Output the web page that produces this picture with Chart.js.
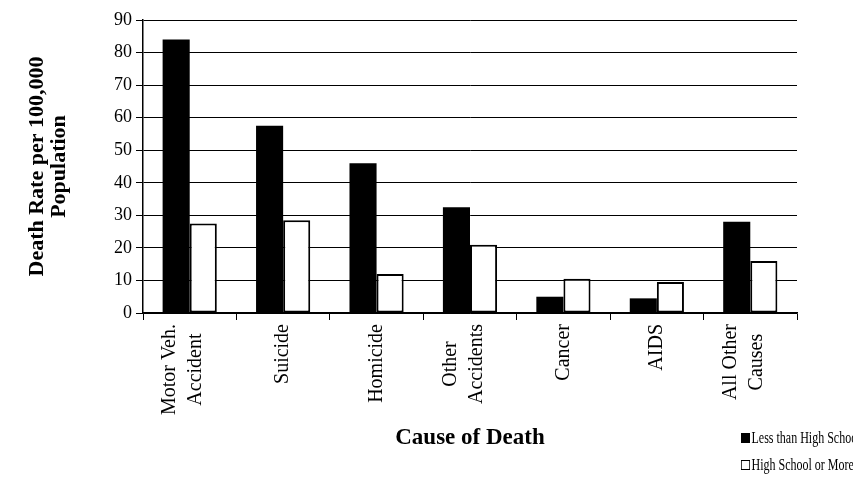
<!DOCTYPE html>
<html>
<head>
<meta charset="utf-8">
<script src="https://cdn.jsdelivr.net/npm/chart.js@4.4.1/dist/chart.umd.min.js"></script>
<style>
  html, body { margin: 0; padding: 0; background: #fff; }
  #wrap { position: relative; width: 853px; height: 477px; overflow: hidden; }
  #chart { position: absolute; left: 0; top: 0; }
  #xtitle {
    position: absolute; left: 370px; width: 200px; top: 424px;
    text-align: center; font: bold 23px 'Liberation Serif', serif; color: #000;
  }
  #legend {
    position: absolute; left: 741px; top: 428px; white-space: nowrap;
    font: 16px 'Liberation Serif', serif; color: #000;
    transform: scaleX(0.75); transform-origin: 0 0;
  }
  #legend div { height: 27px; line-height: 20px; }
  #legend span.box {
    display: inline-block; width: 12px; height: 10px; border: 1.5px solid #000;
    box-sizing: border-box; margin-right: 2px; vertical-align: 0px;
  }
</style>
</head>
<body>
<div id="wrap">
  <canvas id="chart" width="853" height="477"></canvas>
  <div id="xtitle">Cause of Death</div>
  <div id="legend"></div>
</div>
<script>
var causes = [['Motor Veh.', 'Accident'], 'Suicide', 'Homicide', ['Other', 'Accidents'], 'Cancer', 'AIDS', ['All Other', 'Causes']];
var lessThanHS = [84, 57.5, 46, 32.5, 5, 4.5, 28];
var hsOrMore = [27.5, 28.5, 12, 21, 10.5, 9.5, 16];
var seriesNames = ['Less than High School', 'High School or More'];
var yTitle = ['Death Rate per 100,000', 'Population'];

var serif = "'Liberation Serif', 'Times New Roman', serif";

// two-line category labels: lines centred on each other, block near the tick
var centerMultiLine = {
  id: 'centerMultiLine',
  beforeDraw: function (chart) {
    var scale = chart.scales.x;
    var items = scale.getLabelItems(chart.chartArea);
    var c = chart.ctx;
    items.forEach(function (it) {
      if (!Array.isArray(it.label) || it._done) return;
      it._done = true;
      c.save();
      c.font = it.font.string;
      var maxW = Math.max.apply(null, it.label.map(function (l) { return c.measureText(l).width; }));
      c.restore();
      it.textOffset = -(it.label.length - 1) * it.font.lineHeight / 4;
      it.options.textAlign = 'center';
      it.options.translation = [it.options.translation[0], it.options.translation[1] + maxW / 2];
    });
  }
};

var ctx = document.getElementById('chart');
var chart = new Chart(ctx, {
  type: 'bar',
  data: {
    labels: causes,
    datasets: [{
      label: seriesNames[0],
      data: lessThanHS,
      backgroundColor: '#000',
      borderColor: '#000',
      borderWidth: 0
    }, {
      label: seriesNames[1],
      data: hsOrMore,
      backgroundColor: '#fff',
      borderColor: '#000',
      borderWidth: 2,
      borderSkipped: false
    }]
  },
  options: {
    responsive: false,
    animation: false,
    categoryPercentage: 0.58,
    barPercentage: 1.0,
    layout: { padding: { left: 26, top: 20, right: 56, bottom: 0 } },
    plugins: {
      legend: { display: false },
      tooltip: { enabled: false }
    },
    scales: {
      x: {
        grid: { offset: true, drawOnChartArea: false, color: '#000', tickLength: 7 },
        border: { color: '#000', width: 1.5 },
        ticks: {
          minRotation: 90, maxRotation: 90, autoSkip: false,
          color: '#000', padding: 4,
          font: { family: serif, size: 20, lineHeight: 1.3 }
        },
        afterFit: function (scale) { scale.height = 164; }
      },
      y: {
        min: 0, max: 90,
        grid: { color: '#000', lineWidth: 1, tickLength: 7 },
        border: { color: '#000', width: 1.5 },
        ticks: {
          stepSize: 10, color: '#000', padding: 4,
          font: { family: serif, size: 18 }
        },
        title: {
          display: true, text: yTitle, color: '#000',
          font: { family: serif, size: 22, weight: 'bold', lineHeight: 1.0 },
          padding: { top: 0, bottom: 0 }
        },
        afterFit: function (scale) { scale.width = 117; }
      }
    }
  },
  plugins: [centerMultiLine]
});

// legend built from the datasets
var legend = document.getElementById('legend');
chart.data.datasets.forEach(function (ds) {
  var row = document.createElement('div');
  var box = document.createElement('span');
  box.className = 'box';
  box.style.background = ds.backgroundColor;
  row.appendChild(box);
  row.appendChild(document.createTextNode(ds.label));
  legend.appendChild(row);
});
</script>
</body>
</html>
